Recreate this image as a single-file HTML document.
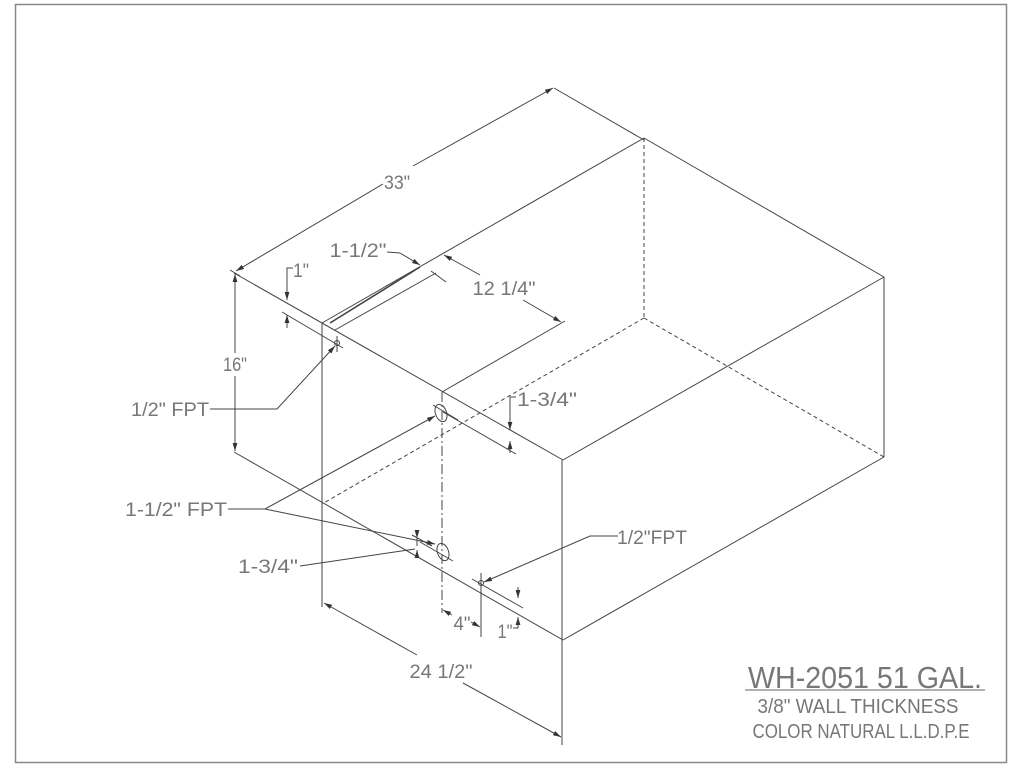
<!DOCTYPE html>
<html><head><meta charset="utf-8"><style>
html,body{margin:0;padding:0;background:#fff;}
svg{display:block;}
text{font-family:"Liberation Sans",sans-serif;fill:#777;font-size:19px;}
</style></head><body>
<svg width="1024" height="768" viewBox="0 0 1024 768" xmlns="http://www.w3.org/2000/svg">
<defs>
<marker id="a" viewBox="0 0 10 6" refX="10" refY="3" markerWidth="8" markerHeight="5" orient="auto" markerUnits="userSpaceOnUse"><path d="M0,0 L10,3 L0,6 z" fill="#333"/></marker>
</defs>
<rect x="15.5" y="4.5" width="991" height="758" fill="none" stroke="#888" stroke-width="1.5"/>
<g stroke="#444" stroke-width="1" fill="none">
<line x1="234" y1="273" x2="563" y2="460"/>
<line x1="234" y1="452" x2="563" y2="640"/>
<line x1="562" y1="460" x2="562" y2="745"/>
<line x1="563" y1="460" x2="884" y2="277"/>
<line x1="563" y1="640" x2="884" y2="457"/>
<line x1="884" y1="277" x2="884" y2="457"/>
<line x1="884" y1="277" x2="644" y2="138"/>
<line x1="322" y1="323" x2="644" y2="138"/>
<line x1="322" y1="323" x2="322" y2="607"/>
<line x1="442" y1="392" x2="565" y2="321"/>
<line x1="335" y1="330" x2="436" y2="273"/>
<line x1="431" y1="271" x2="446" y2="282"/>
<g stroke-dasharray="4,3">
<line x1="644" y1="138" x2="644" y2="318"/>
<line x1="644" y1="318" x2="884" y2="457"/>
<line x1="644" y1="318" x2="322" y2="504"/>
</g>
<line x1="442" y1="392" x2="442" y2="613" stroke-dasharray="10,3,2,3"/>
<line x1="554" y1="88" x2="644" y2="140"/>
<line x1="230" y1="270" x2="240" y2="276"/>
<line x1="383" y1="184" x2="236" y2="271" marker-end="url(#a)"/>
<line x1="413" y1="166" x2="553" y2="88" marker-end="url(#a)"/>
<line x1="235" y1="353" x2="235" y2="274" marker-end="url(#a)"/>
<line x1="235" y1="376" x2="235" y2="451" marker-end="url(#a)"/>
<line x1="282" y1="312" x2="343" y2="348"/>
<polyline points="293,268 287,268 287,300" marker-end="url(#a)"/>
<line x1="287" y1="328" x2="287" y2="315" marker-end="url(#a)"/>
<line x1="387" y1="252" x2="400" y2="253"/>
<line x1="400" y1="253" x2="420" y2="265" marker-end="url(#a)"/>
<line x1="330" y1="323" x2="420" y2="267" stroke-width="1.6"/>
<line x1="480" y1="275" x2="444" y2="255" marker-end="url(#a)"/>
<line x1="523" y1="300" x2="561" y2="322" marker-end="url(#a)"/>
<circle cx="337" cy="343" r="2.5"/>
<line x1="337" y1="336" x2="337" y2="352"/>
<polyline points="210,409 277,409 335,346" marker-end="url(#a)"/>
<ellipse cx="441" cy="413" rx="5.5" ry="9" transform="rotate(-20 441 413)"/>
<line x1="433" y1="405" x2="458" y2="420"/>
<line x1="443" y1="412" x2="516" y2="454"/>
<polyline points="516,397 510,397 510,430" marker-end="url(#a)"/>
<line x1="510" y1="453" x2="510" y2="441" marker-end="url(#a)"/>
<polyline points="228,509 265,509 435,416" marker-end="url(#a)"/>
<line x1="265" y1="509" x2="435" y2="544" marker-end="url(#a)"/>
<ellipse cx="443" cy="552" rx="5.5" ry="9" transform="rotate(-20 443 552)"/>
<line x1="420" y1="542" x2="453" y2="561"/>
<line x1="412" y1="535" x2="432" y2="546"/>
<line x1="300" y1="566" x2="415" y2="549"/>
<line x1="417" y1="538" x2="417" y2="546" marker-start="url(#a)"/>
<line x1="417" y1="558" x2="417" y2="550" marker-end="url(#a)"/>
<circle cx="481" cy="583" r="2.5"/>
<line x1="472" y1="579" x2="523" y2="608"/>
<line x1="481" y1="573" x2="481" y2="637"/>
<polyline points="618,536 590,536 484,582" marker-end="url(#a)"/>
<line x1="452" y1="615" x2="443" y2="610" marker-end="url(#a)"/>
<line x1="471" y1="622" x2="480" y2="627" marker-end="url(#a)"/>
<line x1="518" y1="587" x2="518" y2="598" marker-end="url(#a)"/>
<line x1="518" y1="628" x2="518" y2="617" marker-end="url(#a)"/>
<polyline points="518,620 518,628 513,628"/>
<line x1="417" y1="655" x2="324" y2="603" marker-end="url(#a)"/>
<line x1="463" y1="683" x2="561" y2="737" marker-end="url(#a)"/>
<line x1="745" y1="690" x2="985" y2="690" stroke="#666"/>
</g>
<g lengthAdjust="spacingAndGlyphs">
<text x="397" y="189" text-anchor="middle" textLength="26" lengthAdjust="spacingAndGlyphs">33"</text>
<text x="358" y="257" text-anchor="middle" textLength="57" lengthAdjust="spacingAndGlyphs">1-1/2"</text>
<text x="301" y="277" text-anchor="middle" textLength="16" lengthAdjust="spacingAndGlyphs">1"</text>
<text x="504" y="295" text-anchor="middle" textLength="63" lengthAdjust="spacingAndGlyphs">12 1/4"</text>
<text x="235" y="371" text-anchor="middle" textLength="24" lengthAdjust="spacingAndGlyphs">16"</text>
<text x="170" y="416" text-anchor="middle" textLength="78" lengthAdjust="spacingAndGlyphs">1/2" FPT</text>
<text x="547" y="406" text-anchor="middle" textLength="60" lengthAdjust="spacingAndGlyphs">1-3/4"</text>
<text x="176" y="516" text-anchor="middle" textLength="102" lengthAdjust="spacingAndGlyphs">1-1/2" FPT</text>
<text x="268" y="573" text-anchor="middle" textLength="60" lengthAdjust="spacingAndGlyphs">1-3/4"</text>
<text x="652" y="544" text-anchor="middle" textLength="70" lengthAdjust="spacingAndGlyphs">1/2"FPT</text>
<text x="462" y="630" text-anchor="middle" textLength="17" lengthAdjust="spacingAndGlyphs">4"</text>
<text x="505" y="638" text-anchor="middle" textLength="15" lengthAdjust="spacingAndGlyphs">1"</text>
<text x="441" y="678" text-anchor="middle" textLength="63" lengthAdjust="spacingAndGlyphs">24 1/2"</text>
<text x="865" y="688" text-anchor="middle" textLength="234" lengthAdjust="spacingAndGlyphs" style="font-size:31px">WH-2051  51  GAL.</text>
<text x="858" y="713" text-anchor="middle" textLength="201" lengthAdjust="spacingAndGlyphs" style="font-size:20px">3/8"  WALL  THICKNESS</text>
<text x="861" y="738" text-anchor="middle" textLength="217" lengthAdjust="spacingAndGlyphs" style="font-size:20px">COLOR  NATURAL  L.L.D.P.E</text>
</g>
</svg>
</body></html>
